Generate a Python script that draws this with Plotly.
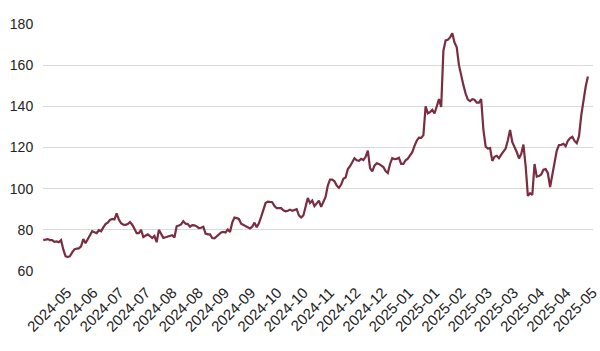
import plotly.graph_objects as go

# Daily closing values (one per trading day)
values = [
    75.0, 75.2, 75.5, 75.0, 75.0, 74.2, 74.4, 74.0, 75.0, 70.5,
    67.2, 66.8, 67.2, 69.0, 70.5, 70.9, 71.0, 72.0, 75.5, 73.5,
    75.3, 77.3, 79.3, 78.8, 78.4, 79.8, 79.3, 81.2, 82.8, 83.5,
    84.8, 85.3, 85.0, 88.0, 85.0, 83.2, 82.5, 82.4, 82.8, 83.8,
    82.5, 80.5, 78.4, 78.4, 80.0, 76.5, 77.2, 77.8, 77.0, 76.0,
    77.0, 74.0, 80.0, 78.0, 76.1, 76.4, 76.8, 77.1, 77.4, 76.3,
    81.7, 82.1, 82.6, 84.2, 83.0, 82.8, 81.5, 82.3, 82.2, 81.7,
    80.8, 81.0, 81.5, 78.2, 77.8, 77.8, 76.0, 75.9, 76.8, 78.0,
    78.7, 79.0, 78.7, 80.2, 79.0, 83.5, 86.0, 85.7, 85.3, 83.0,
    82.4, 82.0, 81.5, 80.7, 81.5, 83.5, 81.3, 83.2, 86.3, 90.2,
    93.0, 93.7, 93.7, 93.4, 91.5, 90.5, 90.5, 90.5, 89.5, 89.0,
    89.3, 89.8, 89.2, 89.5, 90.0, 87.0, 86.0, 87.0, 92.0, 95.5,
    93.0, 94.2, 91.5, 92.6, 94.2, 91.2, 93.7, 96.0, 101.5, 104.4,
    104.4, 103.6, 101.5, 100.4, 102.0, 104.8, 105.4, 109.5, 110.9, 112.8,
    114.8, 113.8, 113.5, 114.5, 113.9, 115.5, 118.5, 110.0, 108.4, 111.2,
    112.3, 112.0, 111.3, 110.5, 108.6, 107.6, 112.0, 114.8, 114.4, 114.5,
    115.0, 112.0, 112.0, 113.8, 114.6, 116.2, 117.7, 120.8, 123.3, 124.8,
    124.7, 126.0, 140.0, 136.6, 137.2, 138.3, 136.5, 139.9, 143.5, 139.7,
    167.0, 172.0, 172.3, 173.5, 175.5, 171.0, 168.7, 160.0, 154.5, 150.3,
    146.2, 143.3, 142.5, 143.5, 143.2, 141.8, 141.8, 143.5, 128.5, 120.5,
    119.5, 119.7, 113.5, 115.5, 116.0, 114.8, 116.5, 118.0, 119.5, 123.5,
    128.5, 122.6, 120.3, 117.8, 114.7, 116.8, 121.4, 111.0, 96.5, 97.8,
    97.0, 112.0, 105.8, 106.1, 106.9, 109.2, 109.5, 107.5, 100.8, 106.5,
    112.5, 118.5, 121.2, 121.3, 121.8, 120.6, 123.3, 124.6, 125.2, 123.2,
    122.1, 125.5, 135.5, 143.0, 149.5, 154.5,
]

tick_labels = [
    "2024-05", "2024-06", "2024-07", "2024-07", "2024-08", "2024-08",
    "2024-09", "2024-09", "2024-10", "2024-10", "2024-11", "2024-12",
    "2024-12", "2025-01", "2025-01", "2025-02", "2025-03", "2025-03",
    "2025-04", "2025-04", "2025-05",
]

y_ticks = [60, 80, 100, 120, 140, 160, 180]

x_index = list(range(len(values)))

tick_start = 10.75
tick_step = 11.82
tick_positions = [tick_start + tick_step * k for k in range(len(tick_labels))]

fig = go.Figure()
fig.add_trace(go.Scatter(
    x=x_index, y=values, mode="lines",
    line=dict(color="#7a2c40", width=2.2),
    hoverinfo="skip",
))

font_family = "Liberation Sans, Arial, sans-serif"

fig.update_layout(
    width=600, height=351,
    margin=dict(l=43, r=0, t=24, b=80),
    paper_bgcolor="white", plot_bgcolor="white",
    showlegend=False,
    font=dict(family=font_family, size=14, color="#222222"),
    xaxis=dict(
        range=[-0.13, 247.3],
        tickmode="array", tickvals=tick_positions, ticktext=tick_labels,
        tickangle=-45, showgrid=False, zeroline=False, showline=False,
        ticks="outside", ticklen=6, tickcolor="rgba(0,0,0,0)",
        tickfont=dict(size=15, color="#222222"),
        ticklabeloverflow="allow",
    ),
    yaxis=dict(
        range=[60, 180],
        tickmode="array", tickvals=y_ticks,
        showgrid=True, gridcolor="#d9d9d9", gridwidth=1,
        zeroline=False, showline=False,
        ticks="outside", ticklen=6, tickcolor="rgba(0,0,0,0)",
        tickfont=dict(size=14, color="#222222"),
    ),
)

fig.write_html("out.html")
